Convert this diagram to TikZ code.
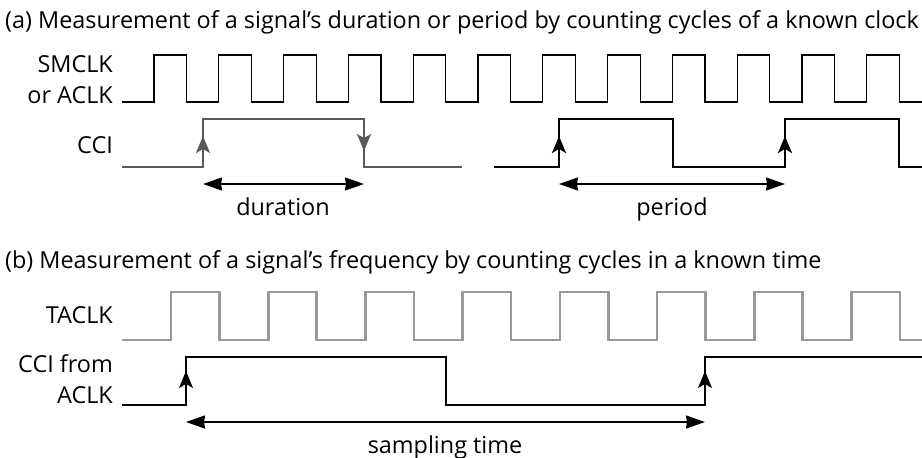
\documentclass[tikz,border=0pt]{standalone}
\usepackage{fontspec}
\setmainfont{Open Sans}
\usetikzlibrary{arrows.meta}
\definecolor{dgray}{HTML}{5A5A5A}
\definecolor{lgray}{HTML}{9A9A9A}
\begin{document}
\begin{tikzpicture}[x=1pt,y=-1pt,
  title/.style={anchor=base west,font=\fontsize{23.4}{26}\selectfont,inner sep=0pt},
  siglabel/.style={anchor=base east,font=\fontsize{23.4}{26}\selectfont,inner sep=0pt},
  meas/.style={anchor=base,font=\fontsize{23.4}{26}\selectfont,inner sep=0pt},
  clk/.style={line width=1.2pt,line join=miter},
  ccigray/.style={line width=2.6pt,dgray,line join=miter},
  ccidark/.style={line width=2.6pt,black,line join=miter},
  taclk/.style={line width=2.6pt,lgray,line join=miter},
  cciblk/.style={line width=1.5pt,black,line join=miter},
  edgearrow/.style={-{Stealth[length=17pt,width=14pt,inset=4pt]}},
  spanarrow/.style={line width=2pt,{Stealth[length=19pt,width=13pt,inset=1pt]}-{Stealth[length=19pt,width=13pt,inset=1pt]}}]
\useasboundingbox (0,0) rectangle (922,458);
% titles
\node[title] (ta) at (5,28) {(a) Measurement of a signal’s duration or period by counting cycles of a known clock};
\node[title] (tb) at (5,268) {(b) Measurement of a signal’s frequency by counting cycles in a known time};
% labels
\node[siglabel] (l1) at (113,72) {SMCLK};
\node[siglabel] (l2) at (113,103) {or ACLK};
\node[siglabel] (l3) at (113,153) {CCI};
\node[siglabel] (l4) at (113,323) {TACLK};
\node[siglabel] (l5) at (113,372) {CCI from};
\node[siglabel] (l6) at (113,403) {ACLK};
% SMCLK
\draw[clk] (122,102) foreach \k in {0,...,11} {
  -- ({154+64.8*\k},102) -- ({154+64.8*\k},55) -- ({186.5+64.8*\k},55) -- ({186.5+64.8*\k},102) } -- (922,102);
% CCI (a) gray
\draw[ccigray] (122,167) -- (203,167) -- (203,119) -- (364,119) -- (364,167) -- (462,167);
\coordinate (g1a) at (203,167); \coordinate (g1b) at (203,136);
\coordinate (g2a) at (364,119); \coordinate (g2b) at (364,151);
\draw[ccigray,edgearrow,line width=2pt] (g1a) -- (g1b);
\draw[ccigray,edgearrow,line width=2pt] (g2a) -- (g2b);
% CCI (a) black
\draw[ccidark] (494,167) -- (559,167) -- (559,119) -- (673,119) -- (673,167) -- (785,167) -- (785,119) -- (899,119) -- (899,167) -- (922,167);
\coordinate (k1a) at (559,167); \coordinate (k1b) at (559,136);
\coordinate (k2a) at (785,167); \coordinate (k2b) at (785,136);
\draw[ccidark,edgearrow,line width=2pt] (k1a) -- (k1b);
\draw[ccidark,edgearrow,line width=2pt] (k2a) -- (k2b);
% duration / period
\coordinate (d1) at (203,184); \coordinate (d2) at (364,184);
\draw[spanarrow] (d1) -- (d2);
\node[meas] (dur) at (283,215) {duration};
\coordinate (p1) at (559,184); \coordinate (p2) at (785,184);
\draw[spanarrow] (p1) -- (p2);
\node[meas] (per) at (672,215) {period};
% TACLK
\draw[taclk] (122,340) foreach \k in {0,...,7} {
  -- ({171+97.2*\k},340) -- ({171+97.2*\k},292) -- ({219.5+97.2*\k},292) -- ({219.5+97.2*\k},340) } -- (922,340);
% CCI from ACLK
\draw[cciblk] (122,405) -- (186,405) -- (186,357) -- (446,357) -- (446,405) -- (705,405) -- (705,357) -- (922,357);
\coordinate (c1a) at (186,405); \coordinate (c1b) at (186,371);
\coordinate (c2a) at (705,405); \coordinate (c2b) at (705,371);
\draw[cciblk,edgearrow] (c1a) -- (c1b);
\draw[cciblk,edgearrow] (c2a) -- (c2b);
% sampling time
\coordinate (s1) at (186,422); \coordinate (s2) at (705,422);
\draw[spanarrow] (s1) -- (s2);
\node[meas] (smp) at (445,453) {sampling time};
\end{tikzpicture}
\end{document}
